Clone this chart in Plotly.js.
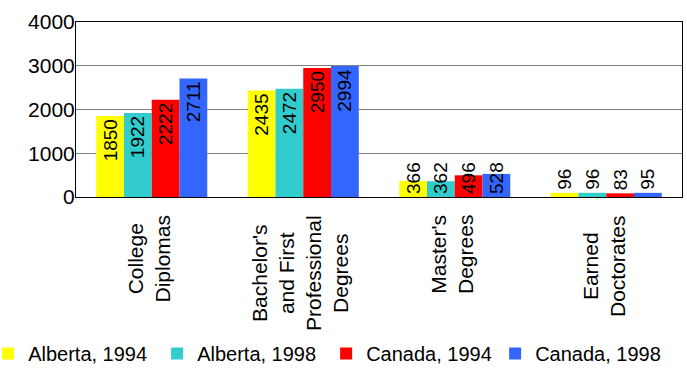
<!DOCTYPE html>
<html>
<head>
<meta charset="utf-8">
<script src="https://cdn.plot.ly/plotly-3.0.1.min.js"></script>
<style>html,body{margin:0;padding:0;background:#fff;}#chart{width:687px;height:368px;}</style>
</head>
<body>
<div id="chart"></div>
<script>
var categories = ["College Diplomas", "Bachelor's and First Professional Degrees", "Master's Degrees", "Earned Doctorates"];
var categoryLabels = ["College<br>Diplomas", "Bachelor's<br>and First<br>Professional<br>Degrees", "Master's<br>Degrees", "Earned<br>Doctorates"];
var seriesNames = ["Alberta, 1994", "Alberta, 1998", "Canada, 1994", "Canada, 1998"];
var alberta1994 = [1850, 2435, 366, 96];
var alberta1998 = [1922, 2472, 362, 96];
var canada1994 = [2222, 2950, 496, 83];
var canada1998 = [2711, 2994, 528, 95];
var yTicks = [0, 1000, 2000, 3000, 4000];

var seriesValues = [alberta1994, alberta1998, canada1994, canada1998];
var colors = ["#FFFF00", "#33CCCC", "#FF0000", "#3366FF"];
var FONT = "Liberation Sans, Arial, sans-serif";

// label placement per category: inside top, inside top, inside base, outside
var mainIdx = [0, 1, 3];
var mainPos = ["inside", "inside", "outside"];
var baseIdx = [2];

var traces = [];
seriesValues.forEach(function (vals, s) {
  traces.push({
    type: "bar",
    name: seriesNames[s],
    legendgroup: "g" + s,
    offsetgroup: "o" + s,
    alignmentgroup: "a",
    x: mainIdx.map(function (i) { return categories[i]; }),
    y: mainIdx.map(function (i) { return vals[i]; }),
    text: mainIdx.map(function (i) { return String(vals[i]); }),
    textposition: mainPos,
    textangle: -90,
    constraintext: "none",
    insidetextanchor: "end",
    textfont: {family: FONT, size: 19, color: "#000"},
    marker: {color: colors[s], line: {width: 0}},
    cliponaxis: false,
    hoverinfo: "x+y+name"
  });
  traces.push({
    type: "bar",
    name: seriesNames[s],
    legendgroup: "g" + s,
    showlegend: false,
    offsetgroup: "o" + s,
    alignmentgroup: "a",
    x: baseIdx.map(function (i) { return categories[i]; }),
    y: baseIdx.map(function (i) { return vals[i]; }),
    text: baseIdx.map(function (i) { return String(vals[i]); }),
    textposition: "inside",
    textangle: -90,
    constraintext: "none",
    insidetextanchor: "start",
    textfont: {family: FONT, size: 19, color: "#000"},
    marker: {color: colors[s], line: {width: 0}},
    cliponaxis: false,
    hoverinfo: "x+y+name"
  });
});

var annotations = categories.map(function (c, i) {
  return {
    x: c, xref: "x",
    y: -0.09, yref: "paper",
    yanchor: "top", xanchor: "center",
    xshift: -3,
    text: categoryLabels[i],
    textangle: -90,
    align: "center",
    showarrow: false,
    font: {family: FONT, size: 21, color: "#000"}
  };
});

var layout = {
  width: 687, height: 368,
  margin: {l: 76, r: 5, t: 22, b: 171, pad: 0, autoexpand: false},
  paper_bgcolor: "#fff", plot_bgcolor: "#fff",
  barmode: "group",
  bargap: 0.267,
  bargroupgap: 0,
  font: {family: FONT, size: 20, color: "#000"},
  xaxis: {
    type: "category",
    categoryorder: "array",
    categoryarray: categories,
    showticklabels: false,
    ticks: "",
    showgrid: false,
    showline: true, linecolor: "#000", linewidth: 1, mirror: true,
    zeroline: false
  },
  yaxis: {
    range: [0, 4000],
    tickvals: yTicks,
    ticktext: yTicks.map(String),
    ticks: "",
    ticklabelstandoff: -4,
    tickfont: {family: FONT, size: 21, color: "#000"},
    showgrid: true, gridcolor: "#808080", gridwidth: 1,
    showline: true, linecolor: "#000", linewidth: 1, mirror: true,
    zeroline: false
  },
  legend: {
    orientation: "h",
    xref: "paper", yref: "paper",
    x: -0.145, xanchor: "left",
    y: -1.005, yanchor: "bottom",
    entrywidth: 124,
    entrywidthmode: "pixels",
    font: {family: FONT, size: 20, color: "#000"},
    bgcolor: "rgba(0,0,0,0)",
    traceorder: "normal"
  },
  annotations: annotations,
  showlegend: true
};

Plotly.newPlot("chart", traces, layout, {displayModeBar: false, staticPlot: true});
</script>
</body>
</html>
